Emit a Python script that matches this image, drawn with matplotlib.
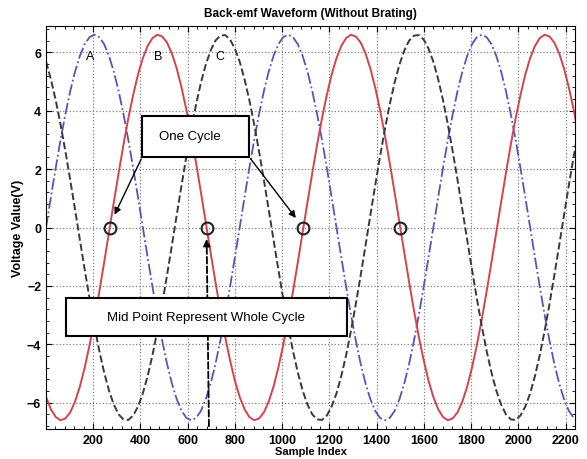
import numpy as np
import matplotlib
matplotlib.use("Agg")
import matplotlib.pyplot as plt
from matplotlib.ticker import MultipleLocator

plt.rcParams['font.family'] = ['Liberation Sans', 'DejaVu Sans']

# Sample index grid (one reading every 20.5 samples)
sample_idx = np.arange(0, 2256, 20.5)

# Phase A (blue, dash-dot)
phase_a = [0, 1.03, 2.04, 3.00, 3.88, 4.67, 5.34, 5.88, 6.28, 6.52, 6.6, 6.52, 6.28, 5.88, 5.34, 4.67, 3.88, 3.00, 2.04, 1.03,
           0, -1.03, -2.04, -3.00, -3.88, -4.67, -5.34, -5.88, -6.28, -6.52, -6.6, -6.52, -6.28, -5.88, -5.34, -4.67, -3.88, -3.00, -2.04, -1.03,
           0, 1.03, 2.04, 3.00, 3.88, 4.67, 5.34, 5.88, 6.28, 6.52, 6.6, 6.52, 6.28, 5.88, 5.34, 4.67, 3.88, 3.00, 2.04, 1.03,
           0, -1.03, -2.04, -3.00, -3.88, -4.67, -5.34, -5.88, -6.28, -6.52, -6.6, -6.52, -6.28, -5.88, -5.34, -4.67, -3.88, -3.00, -2.04, -1.03,
           0, 1.03, 2.04, 3.00, 3.88, 4.67, 5.34, 5.88, 6.28, 6.52, 6.6, 6.52, 6.28, 5.88, 5.34, 4.67, 3.88, 3.00, 2.04, 1.03,
           0, -1.03, -2.04, -3.00, -3.88, -4.67, -5.34, -5.88, -6.28, -6.52, -6.6]

# Phase B (red, solid)
phase_b = [-5.80, -6.22, -6.49, -6.60, -6.54, -6.33, -5.96, -5.44, -4.79, -4.02, -3.15, -2.20, -1.20, -0.17,
           0.86, 1.87, 2.84, 3.74, 4.54, 5.24, 5.80, 6.22, 6.49, 6.60, 6.54, 6.33, 5.96, 5.44, 4.79, 4.02, 3.15, 2.20, 1.20, 0.17,
           -0.86, -1.87, -2.84, -3.74, -4.54, -5.24, -5.80, -6.22, -6.49, -6.60, -6.54, -6.33, -5.96, -5.44, -4.79, -4.02, -3.15, -2.20, -1.20, -0.17,
           0.86, 1.87, 2.84, 3.74, 4.54, 5.24, 5.80, 6.22, 6.49, 6.60, 6.54, 6.33, 5.96, 5.44, 4.79, 4.02, 3.15, 2.20, 1.20, 0.17,
           -0.86, -1.87, -2.84, -3.74, -4.54, -5.24, -5.80, -6.22, -6.49, -6.60, -6.54, -6.33, -5.96, -5.44, -4.79, -4.02, -3.15, -2.20, -1.20, -0.17,
           0.86, 1.87, 2.84, 3.74, 4.54, 5.24, 5.80, 6.22, 6.49, 6.60, 6.54, 6.33, 5.96, 5.44, 4.79, 4.02, 3.15]

# Phase C (black, dashed)
phase_c = [5.68, 5.08, 4.36, 3.53, 2.61, 1.63, 0.61, -0.43,
           -1.45, -2.44, -3.37, -4.22, -4.96, -5.58, -6.06, -6.40, -6.57, -6.59, -6.44, -6.13, -5.68, -5.08, -4.36, -3.53, -2.61, -1.63, -0.61, 0.43,
           1.45, 2.44, 3.37, 4.22, 4.96, 5.58, 6.06, 6.40, 6.57, 6.59, 6.44, 6.13, 5.68, 5.08, 4.36, 3.53, 2.61, 1.63, 0.61, -0.43,
           -1.45, -2.44, -3.37, -4.22, -4.96, -5.58, -6.06, -6.40, -6.57, -6.59, -6.44, -6.13, -5.68, -5.08, -4.36, -3.53, -2.61, -1.63, -0.61, 0.43,
           1.45, 2.44, 3.37, 4.22, 4.96, 5.58, 6.06, 6.40, 6.57, 6.59, 6.44, 6.13, 5.68, 5.08, 4.36, 3.53, 2.61, 1.63, 0.61, -0.43,
           -1.45, -2.44, -3.37, -4.22, -4.96, -5.58, -6.06, -6.40, -6.57, -6.59, -6.44, -6.13, -5.68, -5.08, -4.36, -3.53, -2.61, -1.63, -0.61, 0.43,
           1.45, 2.44, 3.37]

# zero crossings of B marked with circles
mid_x = [270, 680, 1090, 1500]
mid_y = [0, 0, 0, 0]

fig = plt.figure(figsize=(5.87, 4.60), dpi=100)
ax = fig.add_axes([0.0784, 0.0652, 0.9012, 0.8761])

ax.plot(sample_idx, phase_a, color='#5656b8', ls='-.', lw=1.3)
ax.plot(sample_idx, phase_b, color='#d6434c', ls='-', lw=1.4)
ax.plot(sample_idx, phase_c, color='#3a3a3a', ls='--', lw=1.4)
ax.plot(mid_x, mid_y, 'o', ms=8.5, mfc='none', mec='#222222', mew=1.5)

ax.set_xlim(0, 2240)
ax.set_ylim(-6.9, 6.9)
ax.set_xticks(np.arange(200, 2201, 200))
ax.set_yticks(np.arange(-6, 7, 2))
ax.xaxis.set_minor_locator(MultipleLocator(40))
ax.yaxis.set_minor_locator(MultipleLocator(0.4))
ax.tick_params(which='both', direction='in', top=True, right=True)
ax.tick_params(which='major', length=4, labelsize=9)
ax.tick_params(which='minor', length=2)
for lbl in ax.get_xticklabels() + ax.get_yticklabels():
    lbl.set_fontweight('bold')
ax.grid(True, ls=':', color='#808080', lw=0.9)

ax.set_title("Back-emf Waveform (Without Brating)", fontsize=8.5, fontweight='bold', pad=7)
ax.set_xlabel("Sample Index", fontsize=8, fontweight='bold', labelpad=0)
ax.set_ylabel("Voltage Value(V)", fontsize=9, fontweight='bold', labelpad=2)

# phase labels
ax.text(186, 5.88, "A", fontsize=9, ha='center', va='center')
ax.text(475, 5.88, "B", fontsize=9, ha='center', va='center')
ax.text(735, 5.88, "C", fontsize=9, ha='center', va='center')

# One Cycle box + arrows
ax.annotate("", xy=(285, 0.35), xytext=(408, 2.43),
            arrowprops=dict(arrowstyle='-|>', color='black', lw=1, mutation_scale=10))
ax.annotate("", xy=(1065, 0.25), xytext=(859, 2.43),
            arrowprops=dict(arrowstyle='-|>', color='black', lw=1, mutation_scale=10))
ax.add_patch(plt.Rectangle((408, 2.43), 451, 1.40, fc='white', ec='black', lw=1.5, zorder=5))
ax.text(610, 3.13, "One Cycle", fontsize=9.5, ha='center', va='center', zorder=6)

# Mid point arrow + box
ax.annotate("", xy=(680, -0.3), xytext=(690, -6.9),
            arrowprops=dict(arrowstyle='-|>', color='black', lw=1.3, ls='--', mutation_scale=10))
ax.add_patch(plt.Rectangle((83, -3.72), 1190, 1.32, fc='white', ec='black', lw=1.5, zorder=5))
ax.text(678, -3.06, "Mid Point Represent Whole Cycle", fontsize=9.5, ha='center', va='center', zorder=6)

fig.savefig("out.png", dpi=100)
